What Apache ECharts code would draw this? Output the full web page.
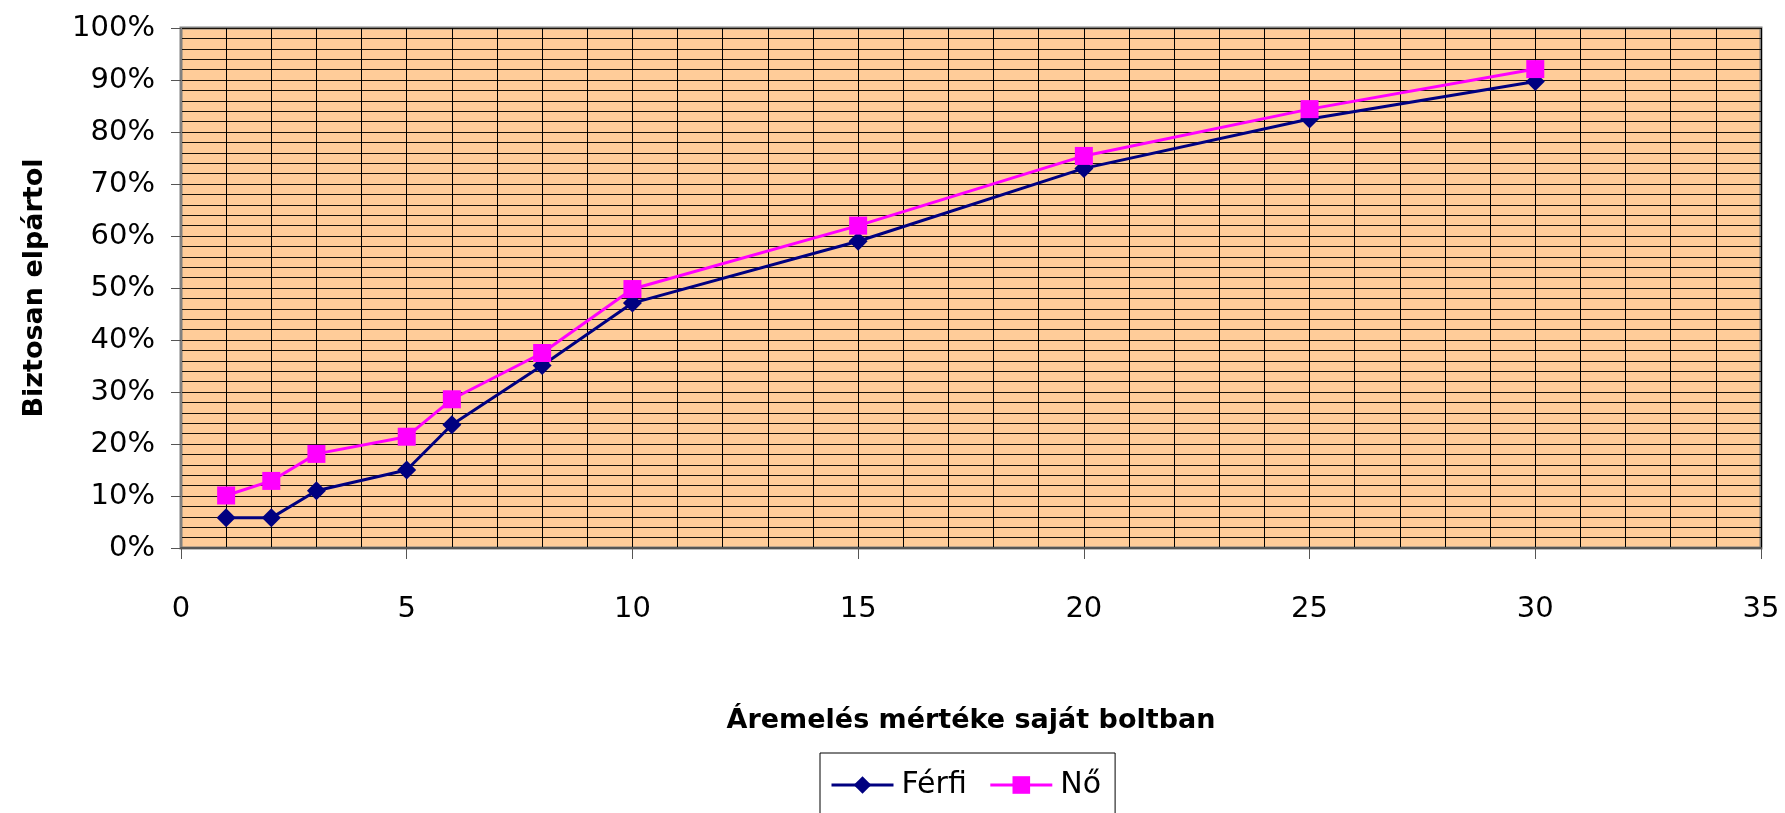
<!DOCTYPE html>
<html>
<head>
<meta charset="utf-8">
<script src="https://cdn.jsdelivr.net/npm/echarts@6/dist/echarts.min.js"></script>
<style>
  html, body { margin: 0; padding: 0; background: #ffffff; }
  #chart { width: 1785px; height: 813px; }
</style>
</head>
<body>
<div id="chart"></div>
<script>
// Price increase in own shop (%), and share that would certainly leave
const priceIncrease = [1, 2, 3, 5, 6, 8, 10, 15, 20, 25, 30];
const ferfi = [0.058, 0.058, 0.110, 0.150, 0.237, 0.351, 0.471, 0.590, 0.730, 0.825, 0.897];
const no = [0.101, 0.129, 0.181, 0.214, 0.286, 0.375, 0.498, 0.620, 0.754, 0.844, 0.921];
const seriesNames = ['Férfi', 'Nő'];
const xAxisTitle = 'Áremelés mértéke saját boltban';
const yAxisTitle = 'Biztosan elpártol';

const FONT = '"Comic Sans MS", "DejaVu Sans", sans-serif';

const pairs = (ys) => priceIncrease.map((x, i) => [x, ys[i]]);

const chart = echarts.init(document.getElementById('chart'), null, { renderer: 'canvas' });

chart.setOption({
  animation: false,
  backgroundColor: '#ffffff',
  textStyle: { fontFamily: FONT, color: '#000' },
  grid: {
    left: 181, top: 28, width: 1580, height: 520,
    show: true,
    backgroundColor: '#FFCC99',
    borderColor: '#808080',
    borderWidth: 3
  },
  legend: {
    data: seriesNames,
    left: 820,
    top: 753,
    orient: 'horizontal',
    itemWidth: 62,
    itemHeight: 22,
    itemGap: 22,
    padding: [17, 14, 17, 10],
    borderColor: '#000',
    borderWidth: 1,
    backgroundColor: '#fff',
    lineStyle: { width: 3 },
    textStyle: { fontFamily: FONT, fontSize: 30, color: '#000', padding: [0, 0, 0, 3] }
  },
  xAxis: {
    type: 'value',
    min: 0,
    max: 35,
    interval: 5,
    name: xAxisTitle,
    nameLocation: 'middle',
    nameGap: 159,
    nameTextStyle: { fontFamily: FONT, fontSize: 27, fontWeight: 'bold', color: '#000' },
    axisLine: { show: true, onZero: false, lineStyle: { color: '#555', width: 2 } },
    axisTick: { show: true, length: 11, lineStyle: { color: '#555', width: 1 } },
    axisLabel: { fontFamily: FONT, fontSize: 29, color: '#000', margin: 47 },
    splitLine: { show: true, lineStyle: { color: '#000', width: 1 } },
    minorTick: { show: false, splitNumber: 5 },
    minorSplitLine: { show: true, lineStyle: { color: '#000', width: 1 } }
  },
  yAxis: {
    type: 'value',
    min: 0,
    max: 1,
    interval: 0.1,
    name: yAxisTitle,
    nameLocation: 'middle',
    nameGap: 133,
    nameRotate: 90,
    nameTextStyle: { fontFamily: FONT, fontSize: 27, fontWeight: 'bold', color: '#000' },
    axisLine: { show: true, lineStyle: { color: '#808080', width: 2 } },
    axisTick: { show: true, length: 10, lineStyle: { color: '#555', width: 1 } },
    axisLabel: {
      fontFamily: FONT, fontSize: 29, color: '#000', margin: 26,
      formatter: (v) => Math.round(v * 100) + '%'
    },
    splitLine: { show: true, lineStyle: { color: '#1a1208', width: 1 } },
    minorTick: { show: false, splitNumber: 5 },
    minorSplitLine: { show: true, lineStyle: { color: '#1a1208', width: 1 } }
  },
  series: [
    {
      name: seriesNames[0],
      type: 'line',
      data: pairs(ferfi),
      symbol: 'diamond',
      symbolSize: 19,
      lineStyle: { color: '#000080', width: 3 },
      itemStyle: { color: '#000080' },
      z: 3
    },
    {
      name: seriesNames[1],
      type: 'line',
      data: pairs(no),
      symbol: 'rect',
      symbolSize: 18,
      lineStyle: { color: '#FF00FF', width: 3 },
      itemStyle: { color: '#FF00FF' },
      z: 4
    }
  ]
});
</script>
</body>
</html>
